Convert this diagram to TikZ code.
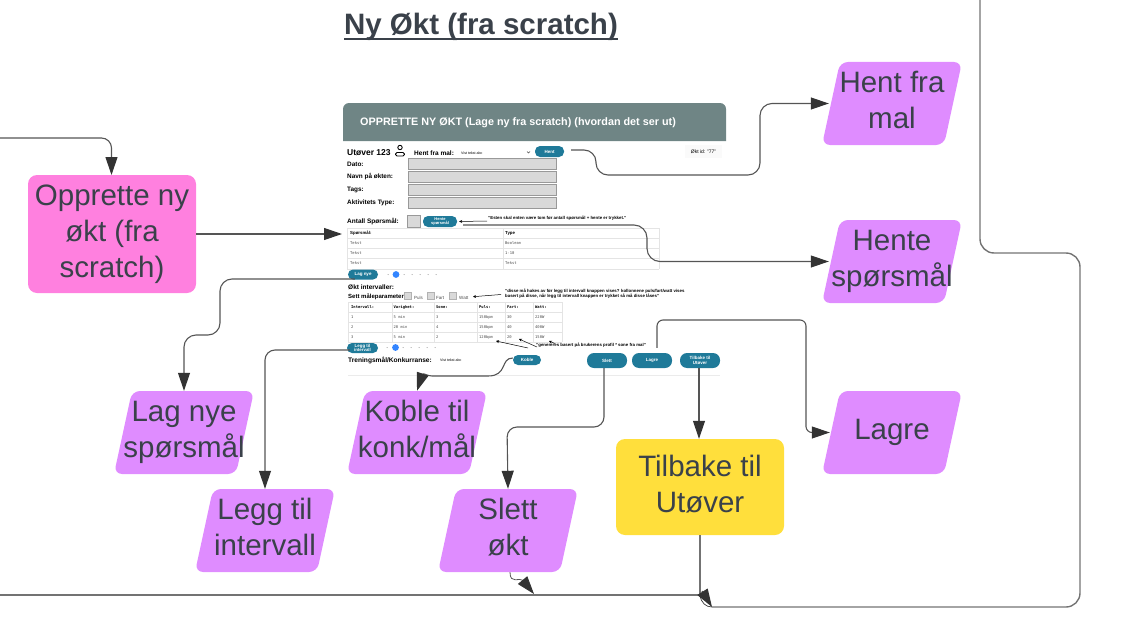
\documentclass[tikz,border=0pt]{standalone}
\usepackage{fontspec}
\setmainfont{Liberation Sans}
\setmonofont{DejaVu Sans Mono}
\usetikzlibrary{arrows.meta}
\definecolor{ink}{HTML}{3A414A}
\definecolor{lilla}{HTML}{DF8CFF}
\definecolor{rosa}{HTML}{FF80DF}
\definecolor{gul}{HTML}{FFDF3C}
\definecolor{topp}{HTML}{6F8585}
\definecolor{knapp}{HTML}{1F7A99}
\definecolor{felt}{HTML}{D9D9D9}
\definecolor{linje}{HTML}{E4E4E4}
\definecolor{strek}{HTML}{555555}
\definecolor{pil}{HTML}{333333}
\newcommand{\lyft}{\rule[-10.8pt]{0pt}{36pt}}
\tikzset{
  big/.style={text=ink,align=center,font=\fontsize{29.5}{36}\selectfont,inner sep=0pt},
  boks/.style={big,rounded corners=9pt,minimum width=168pt},
  parbox/.style={big,minimum width=140pt,minimum height=83pt},
  btn/.style={fill=knapp,text=white,rounded corners=5pt,inner sep=0pt,align=center,font=\fontsize{4.5}{5}\bfseries\selectfont},
  lbl/.style={anchor=west,inner sep=0pt,font=\fontsize{6.5}{8}\bfseries\selectfont,text=black},
  smaa/.style={anchor=west,inner sep=0pt,font=\fontsize{4.35}{5.5}\bfseries\selectfont,text=black},
  cell/.style={anchor=west,inner sep=0pt,font=\ttfamily\fontsize{3.8}{4}\selectfont,text=black!70},
  fld/.style={fill=felt,draw=black!40,line width=.5pt,inner sep=0pt},
  kryss/.style={fill=felt,draw=black!30,line width=.4pt,inner sep=0pt,minimum size=7pt},
  flow/.style={draw=strek,line width=1.1pt,-{Triangle[length=18pt,width=12pt,color=pil]},rounded corners=10pt},
  bunn/.style={draw=black!55,line width=1.4pt},
  note/.style={draw=black,line width=.5pt,-{Stealth[length=3pt,width=3pt]}},
  rute/.style={draw=linje,line width=.5pt},
}
\newcommand{\prlg}[4]{%
  \fill[lilla,rounded corners=8pt] (#2-52,#3+41.5) -- (#2-70,#3+41.5) -- (#2-52,#3-41.5) -- (#2+70,#3-41.5) -- (#2+52,#3+41.5) -- cycle;
  \node[parbox] (#1) at (#2,#3) {\lyft #4\lyft};}
\begin{document}
\begin{tikzpicture}[x=1pt,y=-1pt]
\useasboundingbox (0,0) rectangle (1132,634);

\node[inner sep=0pt,text=ink,font=\fontsize{29.5}{32}\bfseries\selectfont] (title) at (481,26.5) {Ny Økt (fra scratch)};
\draw[ink,line width=2pt] (344,39) -- (618,39);

\fill[topp,rounded corners=6pt] (343,141) [sharp corners] -- (343,125) [rounded corners=6pt] -- (343,103) -- (726,103) -- (726,125) [sharp corners] -- (726,141) -- cycle;
\node[anchor=west,inner sep=0pt,text=white,font=\fontsize{10.8}{13}\bfseries\selectfont] (header) at (360,122.5) {OPPRETTE NY ØKT (Lage ny fra scratch) (hvordan det ser ut)};

\node[lbl,font=\fontsize{8.5}{11}\bfseries\selectfont] (utover) at (347,152.5) {Utøver 123};
\draw[black,line width=.9pt] (400,147.5) circle (2.2);
\draw[black,line width=.9pt,rounded corners=1.5pt] (395.5,156) rectangle (404.5,152.5);
\node[lbl] (mal) at (414,153) {Hent fra mal:};
\node[smaa,font=\fontsize{3.6}{4}\selectfont] (malvalg) at (461,153) {Vist tekst abc};
\draw[black!70,line width=.4pt] (527,151.5) -- (528.5,153) -- (530,151.5);
\node[btn,minimum width=29pt,minimum height=11pt] (hent) at (549.5,151.5) {Hent};
\node[inner sep=0pt,minimum width=37pt,minimum height=13pt,fill=black!2,font=\fontsize{5}{6}\selectfont] (oktid) at (703.5,151.5) {Økt id: "77"};

\foreach \y/\txt in {164/Dato:,176.5/Navn på økten:,189.5/Tags:,202.5/Aktivitets Type:} {
  \node[lbl,font=\fontsize{6.4}{8}\bfseries\selectfont] at (347,\y) {\txt};
  \node[fld,minimum width=148pt,minimum height=11pt] at (482,\y) {};
}

\node[lbl] (antall) at (347,221) {Antall Spørsmål:};
\node[fld,minimum width=13pt,minimum height=12pt] (antallfelt) at (413.5,221) {};
\node[btn,minimum width=34pt,minimum height=11pt,font=\fontsize{4}{4.5}\bfseries\selectfont] (hentesp) at (440,221.5) {Hente\\spørsmål};
\node[smaa] (noteen) at (488,218.5) {"Esten skal enten være tom før antall spørsmål + hente er trykket."};
\draw[note] (noteen.west) ++(-1,2.5) -- ([xshift=2pt]hentesp.east);

\foreach \y in {228,238,248,258,269} \draw[rute] (347,\y) -- (659,\y);
\draw[rute] (347,228) -- (347,269) (503,228) -- (503,269) (659,228) -- (659,269);
\node[smaa] at (350,233) {Spørsmål:};
\node[smaa] at (505,233) {Type};
\foreach \y/\txt in {243/Boolean,253/1-10,263/Tekst} {
  \node[cell] at (350,\y) {Tekst};
  \node[cell] at (505,\y) {\txt};
}
\node[btn,minimum width=30pt,minimum height=10pt] (lagnye) at (363,274.5) {Lag nye};
\fill[blue!60!cyan!80] (396,274.5) circle (3.4);
\foreach \x in {388,404,412,420,428,436} \fill[black!45] (\x,274.5) circle (.5);

\node[lbl] (okt) at (348,287.5) {Økt intervaller:};
\node[lbl,font=\fontsize{6}{8}\bfseries\selectfont] (sett) at (348,296.5) {Sett måleparametere:};
\foreach \x/\tx/\txt in {408/414/Puls,431/436/Fart,453/459/Watt} {
  \node[kryss] at (\x,296) {};
  \node[smaa,font=\fontsize{4.5}{5}\selectfont,text=black!70] at (\tx,297.5) {\txt};
}
\node[smaa,align=left] (noteto) at (505,293.5) {"disse må hakes av før legg til intervall knappen vises? kollonnene puls/fart/watt vises\\basert på disse, når legg til intervall knappen er trykket så må disse låses"};
\draw[note] (noteto.west) ++(-4,1) -- (473,296.7);

\foreach \y in {302,312,322,332,342} \draw[rute] (348,\y) -- (562,\y);
\foreach \x in {348,392,434,477,505,533,562} \draw[rute] (\x,302) -- (\x,342);
\foreach \x/\txt in {351/Intervall:,393.5/Varighet:,436/Sone:,479/Puls:,507/Fart:,535/Watt:}
  \node[cell,font=\ttfamily\bfseries\fontsize{3.8}{4}\selectfont,text=black] at (\x,307) {\txt};
\foreach \y/\ca/\cb/\cc/\cd/\ce/\cf in {317/1/5 min/3/150bpm/30/220W,327/2/20 min/4/150bpm/40/400W,337/3/5 min/2/120bpm/20/150W} {
  \node[cell] at (351,\y) {\ca};
  \node[cell] at (393.5,\y) {\cb};
  \node[cell] at (436,\y) {\cc};
  \node[cell] at (479,\y) {\cd};
  \node[cell] at (507,\y) {\ce};
  \node[cell] at (535,\y) {\cf};
}
\node[btn,minimum width=31pt,minimum height=10pt,font=\fontsize{4.4}{4.6}\bfseries\selectfont] (leggtil) at (362.5,348) {Legg til\\intervall};
\fill[blue!60!cyan!80] (395.5,347.5) circle (3.4);
\foreach \x in {387,403,411,419,427,435} \fill[black!45] (\x,347.5) circle (.5);

\node[smaa] (notetre) at (536,345.5) {"genereres basert på brukerens profil * sone fra mal"};
\draw[note] (528,348) -- (496,341);
\draw[note] (537,347) -- (519,339);
\draw[note] (555,343.5) -- (549,341);

\node[lbl,font=\fontsize{6.6}{8}\bfseries\selectfont] (trening) at (348,360) {Treningsmål/Konkurranse:};
\node[smaa,font=\fontsize{3.6}{4}\selectfont] (vist) at (440,360) {Vist tekst abc};
\node[btn,minimum width=28pt,minimum height=10pt] (koble) at (527,360) {Koble};
\node[btn,rounded corners=7pt,minimum width=40pt,minimum height=15pt] (slett) at (607,360.5) {Slett};
\node[btn,rounded corners=7pt,minimum width=40pt,minimum height=15pt] (lagre) at (652,360.5) {Lagre};
\node[btn,rounded corners=7pt,minimum width=40pt,minimum height=15pt] (tilbake) at (700,360.5) {Tilbake til\\Utøver};
\draw[black!8,line width=.5pt] (348,375) -- (720,375);

\node[boks,fill=rosa,minimum height=118pt] (ny) at (112,234) {\lyft Opprette ny\\økt (fra\\scratch)\lyft};
\node[boks,fill=gul,minimum height=96pt] (tilbakeboks) at (700,487) {\lyft Tilbake til\\Utøver\lyft};
\prlg{hentmal}{892}{103.5}{Hent fra\\mal}
\prlg{hentesporsmal}{892}{261.5}{Hente\\spørsmål}
\prlg{lagreboks}{892}{432.5}{Lagre}
\prlg{lagnyeboks}{184}{432.5}{Lag nye\\spørsmål}
\prlg{kobleboks}{417}{432.5}{Koble til\\konk/mål}
\prlg{leggtilboks}{265}{530.5}{Legg til\\intervall}
\prlg{slettboks}{508}{530.5}{Slett\\økt}

\coordinate (inn) at (0,138);
\coordinate (skjerm) at (342,234);
\coordinate (bunnv) at (0,595);
\coordinate (bunnh) at (700,595);
\coordinate (flett) at (534,594);
\coordinate (retur) at (712,607);
\coordinate (returpil) at (702,591);
\coordinate (topput) at (980,0);

\draw[flow] (inn) -- (111.5,138) -- (111.5,175);
\draw[flow] (ny.east |- skjerm) -- (skjerm);
\draw[flow,rounded corners=12pt] (571,150) -- (596,150) -- (596,175) -- (760,175) -- (760,103.5) -- ([xshift=7pt]hentmal.west);
\draw[flow,rounded corners=13pt] (463,225) -- (647,225) -- (647,261.5) -- ([xshift=7pt]hentesporsmal.west);
\draw[flow,rounded corners=12pt] ([xshift=7pt,yshift=-4.5pt]lagnye.west) -- (220,279) -- (220,335) -- (184,335) -- (lagnyeboks.north);
\draw[flow] ([xshift=3pt,yshift=-2pt]leggtil.west) -- (265,350) -- (leggtilboks.north);
\draw[flow,rounded corners=0pt] ([yshift=2pt]koble.west) .. controls (500,358) and (508,376) .. (488,376) -- (432,376) .. controls (428,376) and (423,373) .. (kobleboks.north);
\draw[flow] ([xshift=-3pt]slett.south) -- (604,427) -- (507,427) -- (slettboks.north);
\draw[flow,rounded corners=6pt] ([xshift=5pt,yshift=5pt]lagre.north) -- (657,320) -- (806,320) -- (806,432.5) -- ([xshift=8pt]lagreboks.west);
\draw[flow] ([xshift=-1pt]tilbake.south) -- ([xshift=-1pt]tilbakeboks.north);
\draw[flow,rounded corners=0pt,line width=.8pt] ([xshift=2pt]slettboks.south) .. controls (510,585) and (520,577) .. (flett);
\draw[bunn] (bunnv) -- (bunnh);
\draw[bunn] (tilbakeboks.south) -- (bunnh);
\draw[draw=pil,line width=.7pt] (bunnh) .. controls (701,603) and (706,607) .. (retur);
\draw[flow,rounded corners=0pt] (returpil) -- (retur);
\draw[bunn,rounded corners=14pt] (retur) -- (1080,607) -- (1080,253) -- (980,253) -- (topput);
\end{tikzpicture}
\end{document}
